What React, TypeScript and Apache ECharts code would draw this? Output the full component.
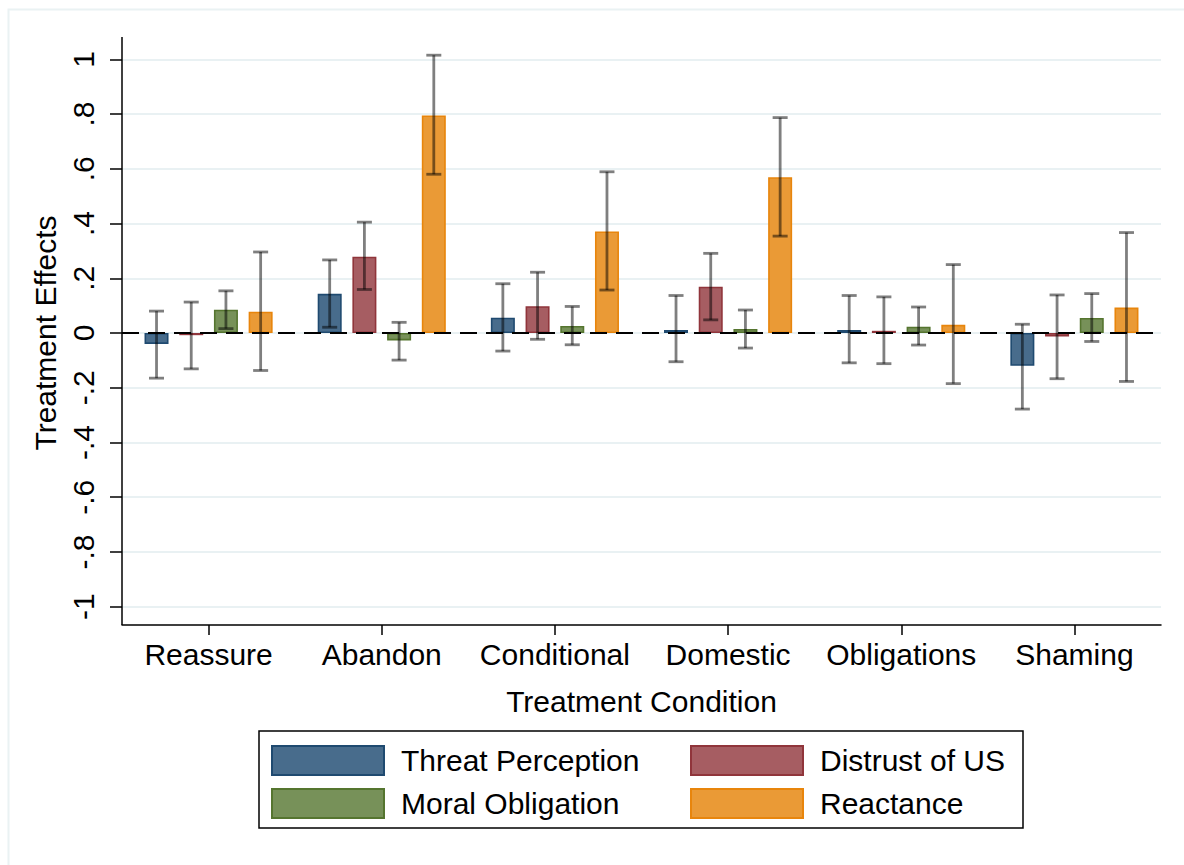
import React, { useEffect, useRef } from "react";
import * as echarts from "echarts";

const categories = ["Reassure", "Abandon", "Conditional", "Domestic", "Obligations", "Shaming"];
const seriesNames = ["Threat Perception", "Distrust of US", "Moral Obligation", "Reactance"];

const threat = [-0.04, 0.143, 0.056, 0.011, 0.011, -0.12];
const threatLo = [-0.165, 0.021, -0.066, -0.105, -0.109, -0.278];
const threatHi = [0.08, 0.267, 0.18, 0.137, 0.137, 0.032];

const distrust = [-0.008, 0.279, 0.098, 0.169, 0.008, -0.013];
const distrustLo = [-0.131, 0.159, -0.023, 0.048, -0.112, -0.167];
const distrustHi = [0.113, 0.405, 0.222, 0.291, 0.132, 0.139];

const moral = [0.085, -0.027, 0.026, 0.015, 0.023, 0.055];
const moralLo = [0.016, -0.099, -0.043, -0.055, -0.044, -0.031];
const moralHi = [0.154, 0.039, 0.097, 0.084, 0.095, 0.144];

const reactance = [0.078, 0.795, 0.371, 0.569, 0.03, 0.093];
const reactanceLo = [-0.137, 0.58, 0.157, 0.354, -0.185, -0.177];
const reactanceHi = [0.296, 1.015, 0.589, 0.787, 0.25, 0.367];

const yTickValues = [-1, -0.8, -0.6, -0.4, -0.2, 0, 0.2, 0.4, 0.6, 0.8, 1];
const yTickLabels = ["-1", "-.8", "-.6", "-.4", "-.2", "0", ".2", ".4", ".6", ".8", "1"];

const fills = ["#486c8c", "#a65d62", "#779159", "#ea9a36"];
const borders = ["#1f4a70", "#90353b", "#55752f", "#e8850c"];

const FONT = "'Liberation Sans', Arial, sans-serif";
const FS = 30;
const BAR_W = 24;
const GAP_RATIO = 0.446;

export default function App() {
  const ref = useRef<HTMLDivElement>(null);

  useEffect(() => {
    if (!ref.current) return;
    const chart = echarts.init(ref.current, null, { renderer: "svg" });

    const values = [threat, distrust, moral, reactance];
    const lows = [threatLo, distrustLo, moralLo, reactanceLo];
    const highs = [threatHi, distrustHi, moralHi, reactanceHi];
    const spacing = BAR_W * (1 + GAP_RATIO);

    const barSeries = seriesNames.map((name, k) => ({
      name,
      type: "bar",
      data: values[k],
      barWidth: BAR_W,
      barGap: GAP_RATIO * 100 + "%",
      itemStyle: { color: fills[k], borderColor: borders[k], borderWidth: 1.6 },
      z: 2,
      ...(k === 0
        ? {
            markLine: {
              silent: true,
              symbol: ["none", "none"],
              label: { show: false },
              lineStyle: { color: "#000", type: [17, 9], width: 2 },
              data: [{ yAxis: 0 }],
              z: 3,
            },
          }
        : {}),
    }));

    const errSeries = seriesNames.map((name, k) => ({
      name: name + " CI",
      type: "custom",
      z: 5,
      silent: true,
      encode: { x: 0, y: [1, 2] },
      data: categories.map((_, i) => [i, lows[k][i], highs[k][i]]),
      renderItem: (params: any, api: any) => {
        const ci = api.value(0);
        const x = api.coord([ci, 0])[0] + (k - 1.5) * spacing;
        const yLo = api.coord([ci, api.value(1)])[1];
        const yHi = api.coord([ci, api.value(2)])[1];
        const st = { stroke: "rgba(0,0,0,0.5)", lineWidth: 2.8 };
        const cap = 7.5;
        return {
          type: "group",
          children: [
            { type: "line", shape: { x1: x, y1: yLo, x2: x, y2: yHi }, style: st },
            { type: "line", shape: { x1: x - cap, y1: yHi, x2: x + cap, y2: yHi }, style: st },
            { type: "line", shape: { x1: x - cap, y1: yLo, x2: x + cap, y2: yLo }, style: st },
          ],
        };
      },
    }));

    const legendCommon = {
      orient: "vertical",
      padding: 0,
      itemWidth: 112,
      itemHeight: 29,
      itemGap: 12,
      icon: "rect",
      textStyle: { fontFamily: FONT, fontSize: FS, color: "#000", lineHeight: 29, padding: [0, 0, 0, 12] },
      selectedMode: false,
    };

    chart.setOption({
      animation: false,
      backgroundColor: "#fff",
      textStyle: { fontFamily: FONT },
      grid: { left: 122, right: 23, top: 59.3, bottom: 258.3, containLabel: false },
      xAxis: {
        type: "category",
        data: categories,
        offset: 18.3,
        axisLine: { show: true, onZero: false, lineStyle: { color: "#000", width: 1.5 } },
        axisTick: { show: true, alignWithLabel: true, interval: 0, length: 10, lineStyle: { color: "#000", width: 1.5 } },
        axisLabel: { fontFamily: FONT, fontSize: FS, color: "#000", margin: 14, interval: 0 },
        name: "Treatment Condition",
        nameLocation: "middle",
        nameGap: 61,
        nameTextStyle: { fontFamily: FONT, fontSize: FS, color: "#000" },
      },
      yAxis: {
        type: "value",
        min: -1,
        max: 1,
        interval: 0.2,
        axisLine: { show: false },
        axisTick: { show: true, length: 12, lineStyle: { color: "#000", width: 1.5 } },
        axisLabel: {
          fontFamily: FONT,
          fontSize: FS,
          color: "#000",
          rotate: 90,
          margin: 24,
          formatter: (v: number) => {
            const idx = yTickValues.findIndex((t) => Math.abs(t - v) < 1e-6);
            return idx >= 0 ? yTickLabels[idx] : "";
          },
        },
        splitLine: { show: true, lineStyle: { color: "#e9f1f3", width: 2 } },
        name: "Treatment Effects",
        nameLocation: "middle",
        nameGap: 51,
        nameTextStyle: { fontFamily: FONT, fontSize: FS, color: "#000" },
      },
      legend: [
        { ...legendCommon, left: 271, top: 745, data: [seriesNames[0], seriesNames[2]] },
        { ...legendCommon, left: 690, top: 745, data: [seriesNames[1], seriesNames[3]] },
      ],
      graphic: [
        {
          type: "rect",
          left: 6,
          top: 7,
          shape: { x: 0, y: 0, width: 1200, height: 857 },
          style: { fill: "none", stroke: "#eaf2f3", lineWidth: 2 },
          silent: true,
          z: -10,
        },
        {
          type: "line",
          shape: { x1: 122, y1: 37, x2: 122, y2: 625 },
          style: { stroke: "#000", lineWidth: 1.5 },
          silent: true,
          z: 10,
        },
        {
          type: "rect",
          shape: { x: 259, y: 731, width: 764, height: 97 },
          style: { fill: "none", stroke: "#000", lineWidth: 1.5 },
          silent: true,
          z: 10,
        },
      ],
      series: [...barSeries, ...errSeries],
    });

    return () => chart.dispose();
  }, []);

  return (
    <div
      ref={ref}
      style={{ position: "fixed", left: 0, top: 0, width: 1184, height: 865, background: "#fff" }}
    />
  );
}
